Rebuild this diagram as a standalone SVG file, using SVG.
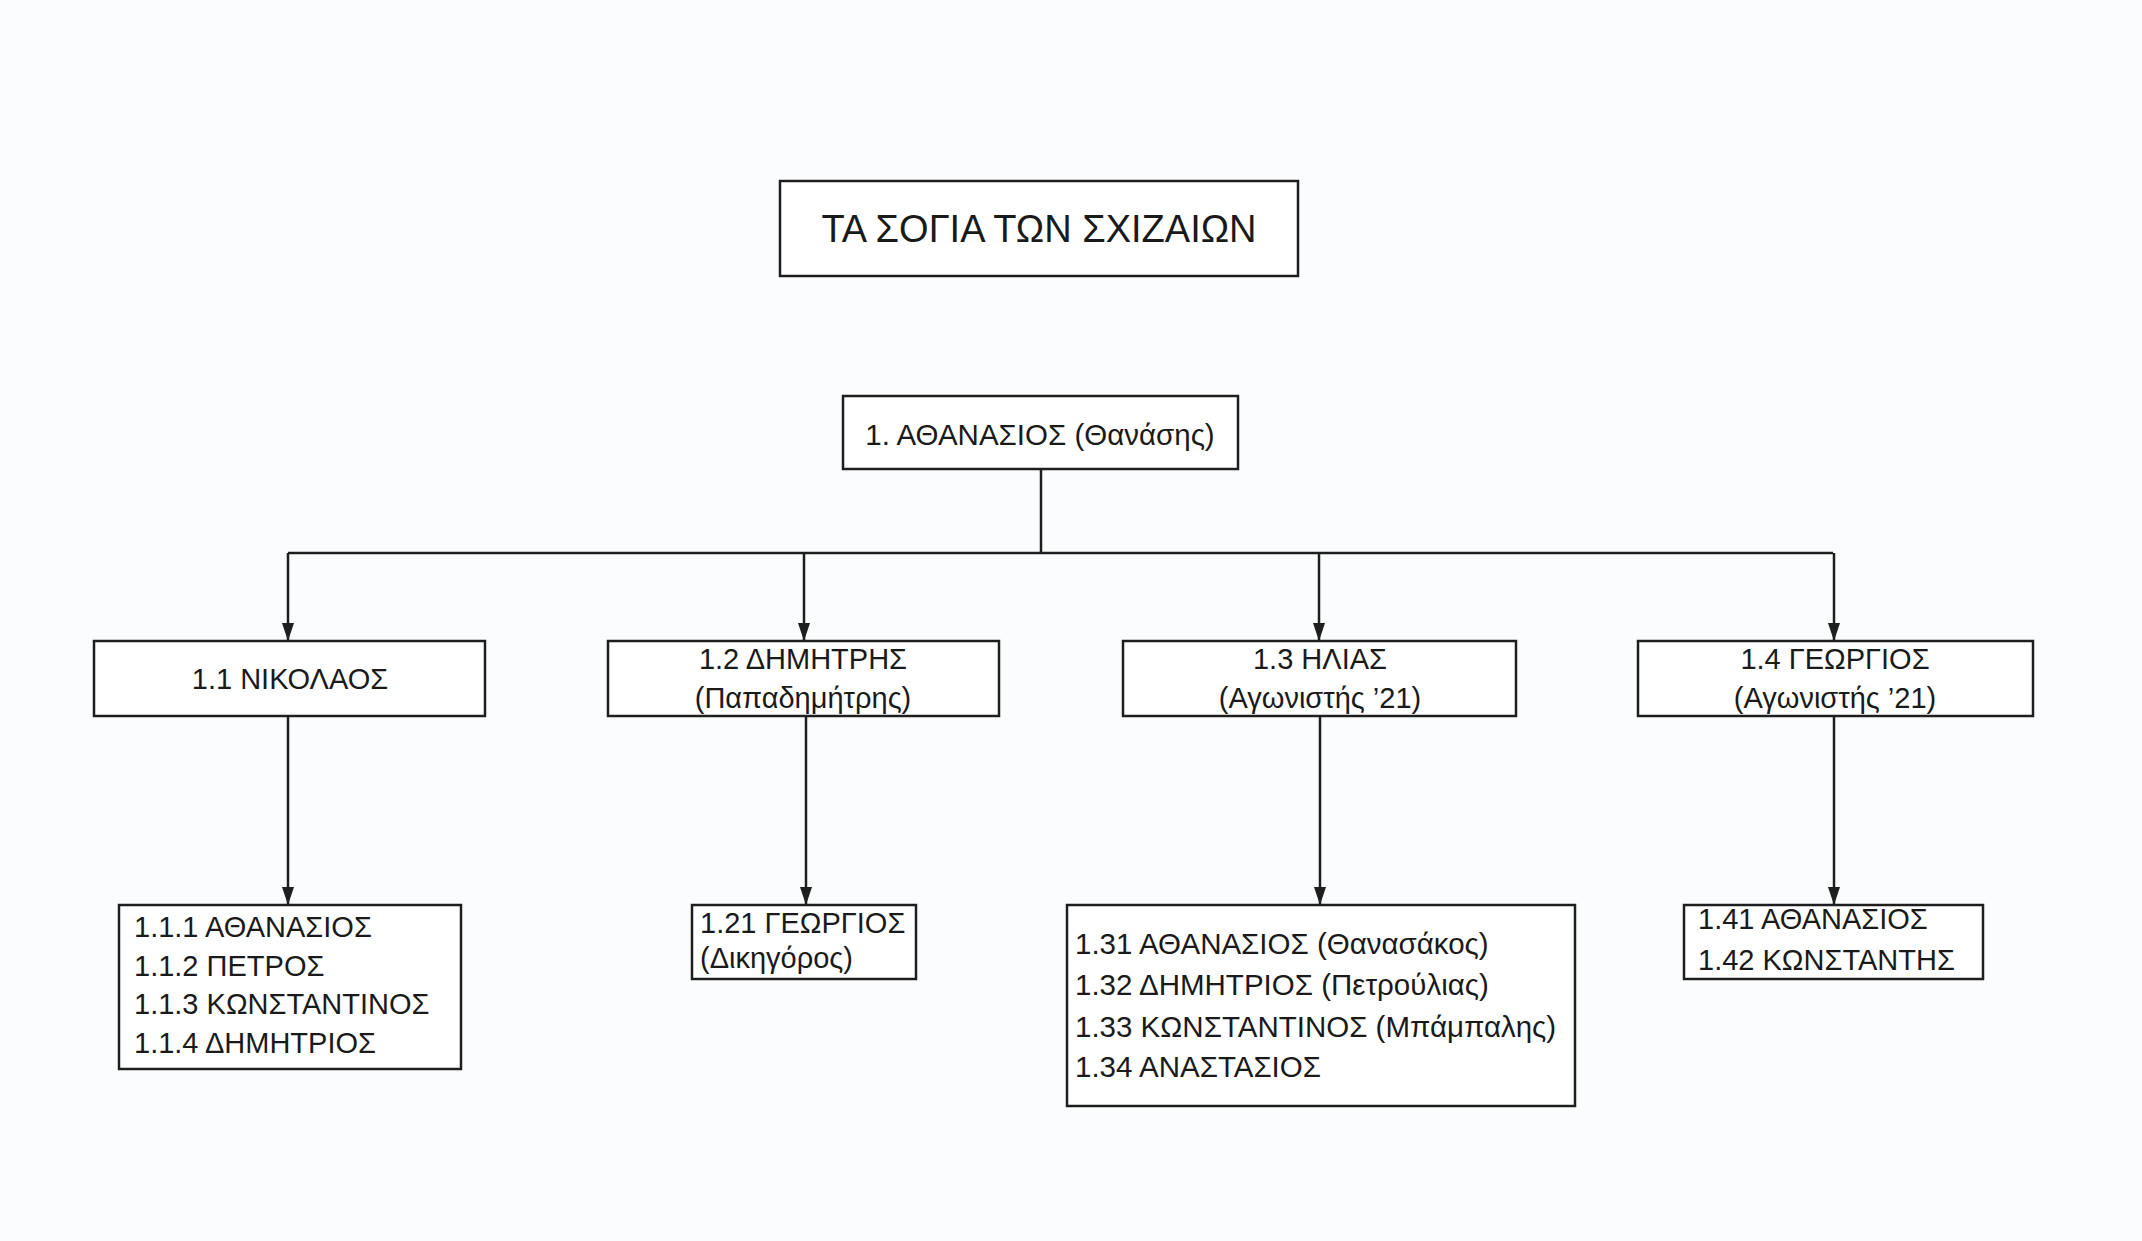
<svg xmlns="http://www.w3.org/2000/svg" width="2142" height="1241" viewBox="0 0 2142 1241">
<style>
.box{fill:#ffffff;stroke:#1e1e1e;stroke-width:2.5}
.t{font-family:"Liberation Sans",Arial,sans-serif;font-size:29px;fill:#1a1a1a}
.c{text-anchor:middle}
.ln{fill:none;stroke:#1e1e1e;stroke-width:2.5}
</style>
<defs>
<marker id="a" viewBox="0 0 18 12" refX="18" refY="6" markerWidth="18" markerHeight="12" orient="auto" markerUnits="userSpaceOnUse">
<path d="M0,0 L18,6 L0,12 Z" fill="#1e1e1e"/>
</marker>
</defs>
<rect width="2142" height="1241" fill="#fbfcfd"/>
<g id="title">
<rect class="box" x="780" y="181" width="518" height="95"/>
<text class="t c" x="1039" y="242" style="font-size:38px">ΤΑ ΣΟΓΙΑ ΤΩΝ ΣΧΙΖΑΙΩΝ</text>
</g>
<g id="connectors">
<line class="ln" x1="1041" y1="469" x2="1041" y2="553"/>
<line class="ln" x1="288" y1="553" x2="1833" y2="553"/>
<line class="ln" x1="288" y1="553" x2="288" y2="641" marker-end="url(#a)"/>
<line class="ln" x1="804" y1="553" x2="804" y2="641" marker-end="url(#a)"/>
<line class="ln" x1="1319" y1="553" x2="1319" y2="641" marker-end="url(#a)"/>
<line class="ln" x1="1834" y1="553" x2="1834" y2="641" marker-end="url(#a)"/>
<line class="ln" x1="288" y1="716" x2="288" y2="905" marker-end="url(#a)"/>
<line class="ln" x1="806" y1="716" x2="806" y2="905" marker-end="url(#a)"/>
<line class="ln" x1="1320" y1="716" x2="1320" y2="905" marker-end="url(#a)"/>
<line class="ln" x1="1834" y1="716" x2="1834" y2="905" marker-end="url(#a)"/>
</g>
<g id="n1">
<rect class="box" x="843" y="396" width="395" height="73"/>
<text class="t c" x="1040" y="445" style="font-size:29.5px">1. ΑΘΑΝΑΣΙΟΣ (Θανάσης)</text>
</g>
<g id="n1_1">
<rect class="box" x="94" y="641" width="391" height="75"/>
<text class="t c" x="290" y="689">1.1 ΝΙΚΟΛΑΟΣ</text>
</g>
<g id="n1_2">
<rect class="box" x="608" y="641" width="391" height="75"/>
<text class="t c" x="803" y="669">1.2 ΔΗΜΗΤΡΗΣ</text>
<text class="t c" x="803" y="708">(Παπαδημήτρης)</text>
</g>
<g id="n1_3">
<rect class="box" x="1123" y="641" width="393" height="75"/>
<text class="t c" x="1320" y="669">1.3 ΗΛΙΑΣ</text>
<text class="t c" x="1320" y="708">(Αγωνιστής ’21)</text>
</g>
<g id="n1_4">
<rect class="box" x="1638" y="641" width="395" height="75"/>
<text class="t c" x="1835" y="669">1.4 ΓΕΩΡΓΙΟΣ</text>
<text class="t c" x="1835" y="708">(Αγωνιστής ’21)</text>
</g>
<g id="n1_1_x">
<rect class="box" x="119" y="905" width="342" height="164"/>
<text class="t" x="134" y="937">1.1.1 ΑΘΑΝΑΣΙΟΣ</text>
<text class="t" x="134" y="976">1.1.2 ΠΕΤΡΟΣ</text>
<text class="t" x="134" y="1014">1.1.3 ΚΩΝΣΤΑΝΤΙΝΟΣ</text>
<text class="t" x="134" y="1053">1.1.4 ΔΗΜΗΤΡΙΟΣ</text>
</g>
<g id="n1_2_x">
<rect class="box" x="692" y="905" width="224" height="74"/>
<text class="t" x="700" y="933">1.21 ΓΕΩΡΓΙΟΣ</text>
<text class="t" x="700" y="968">(Δικηγόρος)</text>
</g>
<g id="n1_3_x">
<rect class="box" x="1067" y="905" width="508" height="201"/>
<text class="t" x="1075" y="954" style="font-size:29.5px">1.31 ΑΘΑΝΑΣΙΟΣ (Θανασάκος)</text>
<text class="t" x="1075" y="995" style="font-size:29.5px">1.32 ΔΗΜΗΤΡΙΟΣ (Πετρούλιας)</text>
<text class="t" x="1075" y="1037" style="font-size:29.5px">1.33 ΚΩΝΣΤΑΝΤΙΝΟΣ (Μπάμπαλης)</text>
<text class="t" x="1075" y="1077" style="font-size:29.5px">1.34 ΑΝΑΣΤΑΣΙΟΣ</text>
</g>
<g id="n1_4_x">
<rect class="box" x="1684" y="905" width="299" height="74"/>
<text class="t" x="1698" y="929">1.41 ΑΘΑΝΑΣΙΟΣ</text>
<text class="t" x="1698" y="970">1.42 ΚΩΝΣΤΑΝΤΗΣ</text>
</g>
</svg>
